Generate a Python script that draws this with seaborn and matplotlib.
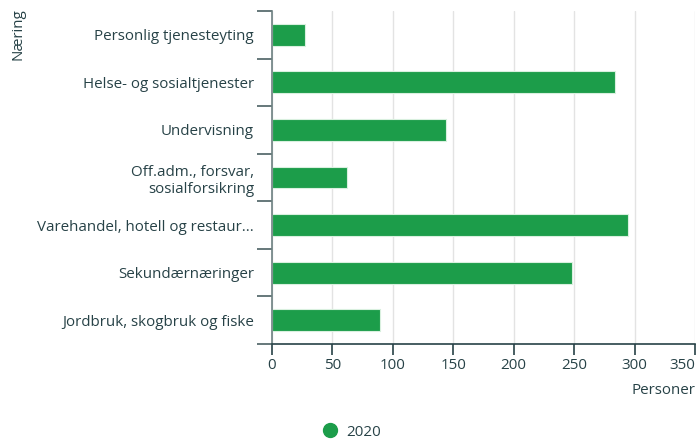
import matplotlib
matplotlib.use("Agg")
import matplotlib.pyplot as plt
import seaborn as sns
import pandas as pd
from matplotlib.lines import Line2D

categories = ["Personlig tjenesteyting", "Helse- og sosialtjenester", "Undervisning",
              "Off.adm., forsvar,\nsosialforsikring", "Varehandel, hotell og restaur...",
              "Sekundærnæringer", "Jordbruk, skogbruk og fiske"]
values = [27, 284, 144, 62, 295, 248, 89]
series_name = "2020"
xticks = [0, 50, 100, 150, 200, 250, 300, 350]

sns.set_theme(style="white")
plt.rcParams['font.family'] = ['Open Sans', 'DejaVu Sans']
txt = "#274247"
green = "#1c9d4a"
fs = 10.9

df = pd.DataFrame({"cat": categories, "val": values})

fig = plt.figure(figsize=(6.96, 4.41), dpi=100)
ax = fig.add_axes([272/696, 1-344/441, 1-272/696-0.0015, (344-11)/441])

sns.barplot(data=df, x="val", y="cat", orient="h", color=green, width=0.46,
            edgecolor="#d9f0df", linewidth=0.8, saturation=1, ax=ax)

ax.set_xlim(0, 350)
ax.set_ylim(len(categories)-0.5, -0.5)
ax.set_xticks(xticks)
ax.set_xticklabels([str(t) for t in xticks])
labs = ax.get_xticklabels()
labs[-1].set_ha("right")
ax.xaxis.grid(True, color="#e3e3e3", linewidth=1)
ax.set_axisbelow(True)

for s in ["top", "right"]:
    ax.spines[s].set_visible(False)
ax.spines["left"].set_color("#6d8081")
ax.spines["left"].set_linewidth(1.2)
ax.spines["bottom"].set_color(txt)
ax.spines["bottom"].set_linewidth(1.2)

ax.tick_params(axis="x", which="major", length=8, width=1.2, color=txt,
               labelsize=fs, labelcolor=txt, pad=2, bottom=True)
ax.set_yticks([i - 0.5 for i in range(len(categories)+1)], minor=True)
ax.tick_params(axis="y", which="minor", length=11, width=1.2, color="#4c6163", left=True)
ax.tick_params(axis="y", which="major", length=0, labelsize=fs, labelcolor=txt, pad=13)
ax.set_xlabel("")
ax.set_ylabel("")

fig.text(0.026, 0.982, "Næring", rotation=90, va="top", ha="center", color=txt, fontsize=fs)
fig.text(0.999, 1-391/441, "Personer", ha="right", va="center", color=txt, fontsize=fs)

handle = Line2D([], [], marker="o", linestyle="none", markersize=10,
                markerfacecolor=green, markeredgecolor=green)
fig.legend([handle], [series_name], loc="center", bbox_to_anchor=(348/696, 1-432/441),
           frameon=False, fontsize=fs, labelcolor=txt, handletextpad=0.1)

fig.savefig("out.png", dpi=100)
